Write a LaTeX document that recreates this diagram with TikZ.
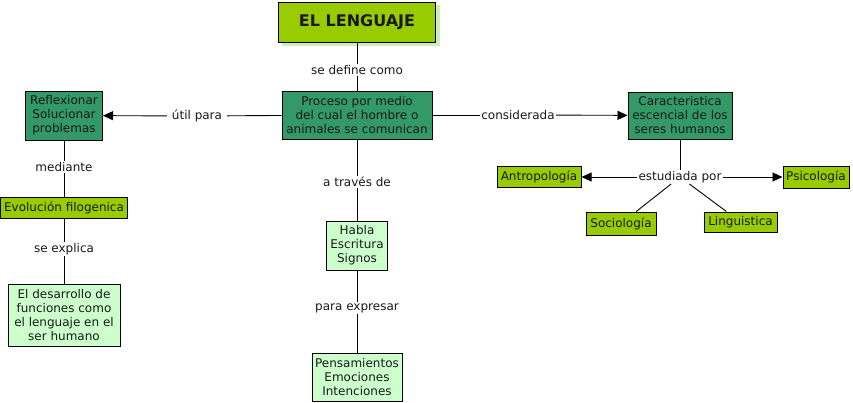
\documentclass[tikz,border=0pt]{standalone}
\usepackage{fontspec}
\setmainfont{DejaVu Sans}
\usetikzlibrary{arrows.meta}
\definecolor{olivebox}{HTML}{99CC00}
\definecolor{tealbox}{HTML}{339966}
\definecolor{mintbox}{HTML}{CCFFCC}
\definecolor{shadowgreen}{HTML}{CCEEBB}

\begin{document}
\begin{tikzpicture}[x=1pt,y=-1pt,font=\fontsize{12}{14}\selectfont]
\tikzset{concept/.style={draw=black, line width=1pt, align=center, inner sep=1pt, text=black!90}}%
\tikzset{olive/.style={concept, fill=olivebox}}%
\tikzset{teal/.style={concept, fill=tealbox}}%
\tikzset{mint/.style={concept, fill=mintbox}}%
\tikzset{link/.style={fill=white, inner sep=1pt, text=black!90}}%
\tikzset{edge/.style={line width=0.9pt}}%
\tikzset{arr/.style={edge, -{Triangle[length=10pt,width=9pt]}}}%
\useasboundingbox (0,0) rectangle (853,402);
% title with its shadow
\fill[shadowgreen] (282,5) rectangle (440,46);
\node[olive, minimum width=157, minimum height=40, font=\fontsize{16}{18}\selectfont\bfseries] (lenguaje) at (357,22) {EL LENGUAJE};
% concepts
\node[teal, minimum width=150, minimum height=48] (proceso) at (357,115) {Proceso por medio\\del cual el hombre o\\animales se comunican};
\node[teal, minimum width=77, minimum height=49] (reflex) at (64,115.5) {Reflexionar\\Solucionar\\problemas};
\node[teal, minimum width=104, minimum height=47] (caract) at (680,115.5) {Caracteristica\\escencial de los\\seres humanos};
\node[olive, minimum width=127, minimum height=21] (evol) at (64,207.5) {Evolución filogenica};
\node[mint, minimum width=112, minimum height=62] (desarr) at (64,315) {El desarrollo de\\funciones como\\el lenguaje en el\\ser humano};
\node[mint, minimum width=61, minimum height=49] (habla) at (357,245.5) {Habla\\Escritura\\Signos};
\node[mint, minimum width=90, minimum height=48] (pensam) at (357,377) {Pensamientos\\Emociones\\Intenciones};
\node[olive, minimum width=84, minimum height=21] (antrop) at (539,177) {Antropología};
\node[olive, minimum width=66, minimum height=22] (psico) at (816,177) {Psicología};
\node[olive, minimum width=70, minimum height=23] (socio) at (621,223.5) {Sociología};
\node[olive, minimum width=73, minimum height=20] (lingu) at (740.5,222) {Linguistica};
% linking phrases
\node[link] (define) at (357,70) {se define como};
\node[link, inner xsep=5pt] (util) at (197,116) {útil para};
\node[link] (consid) at (518,115) {considerada};
\node[link] (traves) at (357,182) {a través de};
\node[link] (median) at (64,167) {mediante};
\node[link] (explica) at (64,249) {se explica};
\node[link] (expresar) at (357,308) {para expresar};
\node[link] (estud) at (680,177) {estudiada por};
% connectors
\draw[edge] (lenguaje) -- (define);
\draw[edge] (define) -- (proceso);
\draw[edge] (proceso) -- (util);
\draw[arr] (util) -- (reflex);
\draw[edge] (proceso) -- (consid);
\draw[arr] (consid) -- (caract);
\draw[edge] (proceso) -- (traves);
\draw[edge] (traves) -- (habla);
\draw[edge] (habla) -- (expresar);
\draw[edge] (expresar) -- (pensam);
\draw[edge] (reflex) -- (median);
\draw[edge] (median) -- (evol);
\draw[edge] (evol) -- (explica);
\draw[edge] (explica) -- (desarr);
\draw[edge] (caract) -- (estud);
\draw[arr] (estud) -- (antrop);
\draw[arr] (estud) -- (psico);
\draw[edge] (estud) -- (socio);
\draw[edge] (estud) -- (lingu);
\end{tikzpicture}
\end{document}
